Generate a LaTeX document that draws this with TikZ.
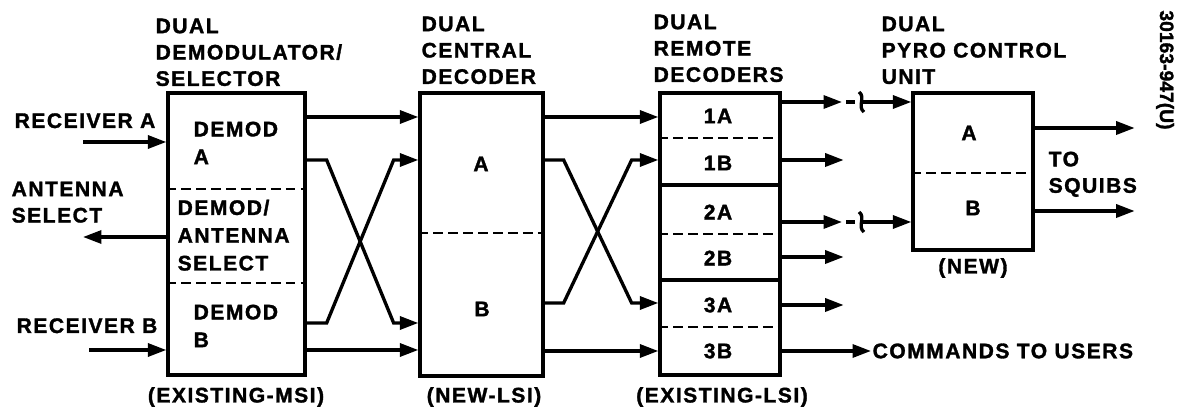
\documentclass[tikz,border=0pt]{standalone}
\usepackage{fontspec}
\setmainfont{Liberation Sans}[LetterSpace=7, BoldFeatures={FakeBold=1.5}]
\newfontfamily\tagfont{Liberation Sans}[BoldFeatures={FakeBold=1.5}]
\usetikzlibrary{arrows.meta}

\begin{document}
\begin{tikzpicture}[
    x=0.02cm, y=-0.02cm,
    font=\fontsize{12}{15}\selectfont\bfseries,
    line width=1.9pt,
    blk/.style={draw, minimum width=2.4cm, inner sep=0pt},
    heading/.style={anchor=north west, align=left, inner sep=0pt},
    boxtext/.style={anchor=north west, align=left, inner sep=0pt, font=\fontsize{12}{15.8}\selectfont\bfseries},
    sublbl/.style={inner sep=0pt},
    wire/.style={},
    divider/.style={line width=1.6pt, dash pattern=on 5.5pt off 3pt},
    brk/.style={line width=1.9pt, dash pattern=on 5pt off 3pt},
    arr/.style={-{Triangle[length=0.37cm, width=0.26cm]}},
]
\useasboundingbox (0,0) rectangle (1181,411);

% Blocks
\node[blk, minimum width=2.74cm, minimum height=5.64cm] (dms) at (236.5,234) {};
\node[blk, minimum width=2.46cm, minimum height=5.66cm] (cdc) at (481.5,234.5) {};
\node[blk, minimum height=5.64cm] (rdc) at (720,234) {};
\node[blk, minimum height=3.14cm] (pcu) at (973,171.5) {};

% Headings
\node[heading] (hdms) at (154,17) {DUAL\\DEMODULATOR/\\SELECTOR};
\node[heading] (hcdc) at (420,15) {DUAL\\CENTRAL\\DECODER};
\node[heading] (hrdc) at (652,13) {DUAL\\REMOTE\\DECODERS};
\node[heading] (hpcu) at (880,15) {DUAL\\PYRO CONTROL\\UNIT};

% Technology labels
\node[sublbl] (tdms) at (236,397) {(EXISTING-MSI)};
\node[sublbl] (tcdc) at (484,397) {(NEW-LSI)};
\node[sublbl] (trdc) at (722,397) {(EXISTING-LSI)};
\node[sublbl] (tpcu) at (973,268) {(NEW)};

% Demodulator sections
\draw[divider] (dms.west |- 0,189) -- (dms.east |- 0,189);
\draw[divider] (dms.west |- 0,283) -- (dms.east |- 0,283);
\node[boxtext] (dmA) at (192,120) {DEMOD\\A};
\node[boxtext] (dmS) at (176,198) {DEMOD/\\ANTENNA\\SELECT};
\node[boxtext] (dmB) at (192,303) {DEMOD\\B};

% Central decoder halves
\draw[divider] (cdc.west |- 0,233) -- (cdc.east |- 0,233);
\node (cdA) at (481,164) {A};
\node (cdB) at (482,309) {B};

% Remote decoder slots
\foreach \y/\sty in {138/divider, 185/wire, 234/divider, 280/wire, 327/divider}
  \draw[\sty] (rdc.west |- 0,\y) -- (rdc.east |- 0,\y);
\foreach \lbl/\y in {1A/116, 1B/163, 2A/212, 2B/258, 3A/305, 3B/351}
  \node (r\lbl) at (718,\y) {\lbl};

% Pyro control halves
\draw[divider] (pcu.west |- 0,173) -- (pcu.east |- 0,173);
\node (pcA) at (969,133) {A};
\node (pcB) at (973,208) {B};

% Receiver inputs and antenna select
\node[anchor=base west, inner sep=0pt] (lrxA) at (13,128) {RECEIVER A};
\node[heading] (lant) at (10,180) {ANTENNA\\SELECT};
\node[anchor=base west, inner sep=0pt] (lrxB) at (15,333) {RECEIVER B};
\coordinate (inA) at (83,142);
\coordinate (antout) at (83,237);
\coordinate (inB) at (89,350);
\draw[arr] (inA) -- (dms.west |- inA);
\draw[arr] (dms.west |- antout) -- (antout);
\draw[arr] (inB) -- (dms.west |- inB);

% Demodulator to central decoder
\foreach \y in {117,350} \draw[arr] (dms.east |- 0,\y) -- (cdc.west |- 0,\y);
\draw[arr] (dms.east |- 0,160) -- ++(20,0) -- ++(67,163) -- (cdc.west |- 0,323);
\draw[arr] (dms.east |- 0,323) -- ++(20,0) -- ++(67,-163) -- (cdc.west |- 0,160);

% Central decoder to remote decoders
\foreach \y in {117,351} \draw[arr] (cdc.east |- 0,\y) -- (rdc.west |- 0,\y);
\draw[arr] (cdc.east |- 0,160) -- ++(19,0) -- ++(68,143) -- (rdc.west |- 0,303);
\draw[arr] (cdc.east |- 0,303) -- ++(19,0) -- ++(68,-143) -- (rdc.west |- 0,160);

% Remote decoder outputs
\foreach \y in {160,257,305} \draw[arr] (rdc.east |- 0,\y) -- ++(62,0);
\foreach \y in {102,222} {
  \coordinate (brk\y) at (842,\y);
  \draw[arr] (rdc.east |- brk\y) -- (brk\y);
  \draw[brk] (brk\y) ++(4,0) -- ++(11,0);
  \draw (859,\y-10) .. controls (866,\y-5) and (857,\y+5) .. (864,\y+10);
  \draw[arr] (brk\y) ++(20,0) -- (pcu.west |- brk\y);
}
\node[anchor=west, inner sep=0pt] (cmd) at (871,351) {COMMANDS TO USERS};
\draw[arr] (rdc.east |- cmd) -- (cmd.west);

% Pyro outputs
\foreach \y in {128,211} \draw[arr] (pcu.east |- 0,\y) -- ++(100,0);
\node[heading] (squib) at (1047,150) {TO\\SQUIBS};

% Figure number
\node[rotate=-90, inner sep=0pt, font=\tagfont\fontsize{11}{13}\selectfont\bfseries] (fig) at (1165,70) {30163-947(U)};
\end{tikzpicture}
\end{document}
